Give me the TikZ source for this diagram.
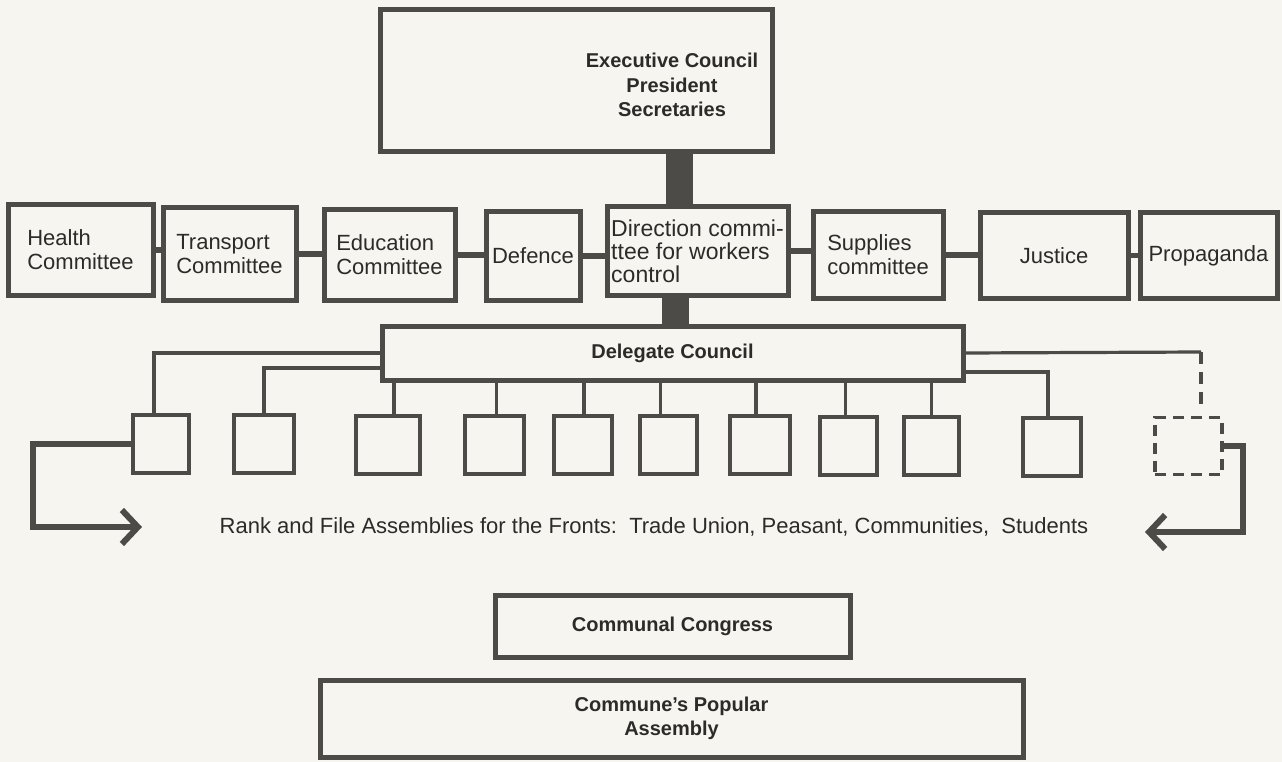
\documentclass[tikz,border=0pt]{standalone}
\usepackage{fontspec}
\setmainfont{Liberation Sans}
\usetikzlibrary{arrows.meta,calc}
\definecolor{ink}{HTML}{4C4B48}
\definecolor{txt}{HTML}{2C2B29}
\definecolor{paper}{HTML}{F7F5EF}
\begin{document}
\begin{tikzpicture}[x=1pt,y=-1pt,
  cbox/.style={draw=ink,line width=5pt,fill=paper,inner sep=4pt,align=left,text=txt,
    font=\fontsize{22}{24}\selectfont},
  bbox/.style={draw=ink,line width=5pt,fill=paper,inner sep=4pt,align=center,text=txt,
    font=\fontsize{20}{24.5}\bfseries},
  sqbox/.style={draw=ink,line width=4pt,fill=paper,minimum height=58pt},
  dashbox/.style={draw=ink,line width=3.5pt,dash pattern=on 11pt off 7pt,minimum height=57pt},
  link/.style={draw=ink,line width=5.5pt},
  thinlink/.style={draw=ink,line width=3.2pt},
  dashlink/.style={draw=ink,line width=3.2pt,dash pattern=on 12pt off 8pt},
  bar/.style={draw=ink,line width=27pt},
  bracket/.style={draw=ink,line width=6pt,-{Straight Barb[length=16pt,width=34pt,line width=6pt]}},
  btext/.style={text=txt,align=center,font=\fontsize{20}{24.5}\bfseries},
  rtext/.style={text=txt,font=\fontsize{22}{24}\selectfont}
]
\useasboundingbox[fill=paper] (0,0) rectangle (1282,762);

% executive
\node[bbox,minimum width=392pt,minimum height=142pt] (exec) at (576,81) {};
\node[btext] (exectxt) at (672,85) {Executive Council\\President\\Secretaries};

% committees
\node[cbox,minimum width=145pt,minimum height=90pt] (health) at (80.5,250) {Health\\Committee};
\node[cbox,minimum width=133pt,minimum height=92pt] (transport) at (229.5,254) {Transport\\Committee};
\node[cbox,minimum width=131pt,minimum height=90pt] (education) at (389.5,255) {Education\\Committee};
\node[cbox,minimum width=94pt,minimum height=88pt] (defence) at (533,256) {Defence};
\node[cbox,minimum width=181pt,minimum height=88pt,inner sep=2pt,font=\fontsize{23}{23}\selectfont] (dir) at (697.5,251) {Direction commi-\\ttee for workers\\control};
\node[cbox,minimum width=130pt,minimum height=86pt] (supplies) at (878,255) {Supplies\\committee};
\node[cbox,minimum width=148pt,minimum height=85pt] (justice) at (1054,255.5) {Justice};
\node[cbox,minimum width=137pt,minimum height=85pt] (prop) at (1208.5,255.5) {Propaganda};

% delegate council
\node[bbox,minimum width=581pt,minimum height=54pt] (del) at (672.5,353) {Delegate Council};

% bars
\draw[bar] ([xshift=103pt]exec.south) -- ([xshift=103pt]exec.south |- dir.north);
\draw[bar] ([xshift=2.5pt]del.north) -- ([xshift=2.5pt]del.north |- dir.south);

% committee links
\draw[link] (health.east) -- (health.east -| transport.west);
\draw[link] (transport.east) -- (transport.east -| education.west);
\draw[link] (education.east) -- (education.east -| defence.west);
\draw[link] (defence.east) -- (defence.east -| dir.west);
\draw[link] (dir.east) -- (dir.east -| supplies.west);
\draw[link] (supplies.east) -- (supplies.east -| justice.west);
\draw[link] (justice.east) -- (justice.east -| prop.west);

% assemblies squares
\node[sqbox,minimum width=56pt] (sq1) at (161,444) {};
\node[sqbox,minimum width=60pt] (sq2) at (264,444) {};
\node[sqbox,minimum width=64pt] (sq3) at (388,445) {};
\node[sqbox,minimum width=59pt] (sq4) at (494.5,445) {};
\node[sqbox,minimum width=58pt] (sq5) at (583,445) {};
\node[sqbox,minimum width=57pt] (sq6) at (668.5,445) {};
\node[sqbox,minimum width=60pt] (sq7) at (760,445) {};
\node[sqbox,minimum width=57pt] (sq8) at (848.5,446) {};
\node[sqbox,minimum width=55pt] (sq9) at (931.5,446) {};
\node[sqbox,minimum width=58pt] (sq10) at (1052,447) {};
\node[dashbox,minimum width=67pt] (sqd) at (1188.5,446) {};

% square links
\draw[thinlink] (del.west) -| ([xshift=-7pt]sq1.north);
\draw[thinlink] ([yshift=-15pt]del.west) -| (sq2.north);
\foreach \s/\dx in {sq3/6,sq4/2,sq5/1,sq6/-8,sq7/-4,sq8/-3,sq9/0}
  \draw[thinlink] ([xshift=\dx pt]\s.north) -- ([xshift=\dx pt]\s.north |- del.south);
\draw[thinlink] ([yshift=-19pt]del.east) -| ([xshift=-4pt]sq10.north);
\coordinate (dc) at (1201,352);
\draw[thinlink] (del.east) -- (dc);
\draw[dashlink] (dc) -- ([yshift=10pt]dc |- sqd.north);

% brackets
\coordinate (lc) at (33,527);
\coordinate (la) at (142,527);
\draw[bracket] (sq1.west) -| (lc) -- (la);
\coordinate (rc) at (1243,532);
\coordinate (ra) at (1145,532);
\draw[bracket] (sqd.east) -| (rc) -- (ra);

\node[rtext] (rank) at (654,527) {Rank and File Assemblies for the Fronts:\ \ Trade Union, Peasant, Communities,\ \ Students};

% congress and assembly
\node[bbox,minimum width=355pt,minimum height=62pt] (congress) at (672.5,626) {Communal Congress};
\node[bbox,minimum width=703pt,minimum height=77pt] (assembly) at (671.5,718.5) {Commune's Popular\\Assembly};
\end{tikzpicture}
\end{document}
